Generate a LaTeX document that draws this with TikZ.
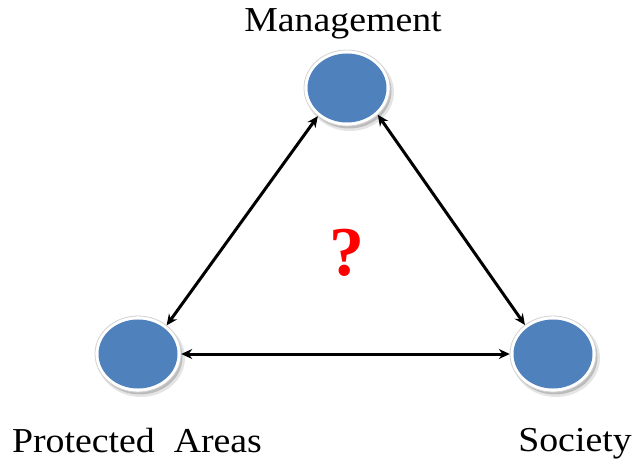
\documentclass[tikz,border=0pt]{standalone}
\usepackage{fontspec}
\setmainfont{Liberation Serif}
\usetikzlibrary{arrows.meta,shapes.geometric,calc}
\definecolor{discblue}{RGB}{79,129,189}
\definecolor{ringedge}{RGB}{210,210,210}
\tikzset{
  disc/.style={ellipse, minimum width=86pt, minimum height=76pt, inner sep=0pt},
  link/.style={line width=3pt, {Stealth[length=11pt,width=10pt]}-{Stealth[length=11pt,width=10pt]}},
  label/.style={anchor=base, inner sep=0pt, font=\fontsize{35}{40}\selectfont}
}
\newcommand{\drawdisc}[2]{%
  % soft shadow, white rim, blue face
  \fill[black, opacity=0.10] ($(#1)+(3,4)$) ellipse [x radius=44pt, y radius=39pt];
  \fill[black, opacity=0.18] ($(#1)+(2,3)$) ellipse [x radius=42.5pt, y radius=37.5pt];
  \filldraw[fill=white, draw=ringedge, line width=0.8pt] (#1) ellipse [x radius=43pt, y radius=38pt];
  \fill[discblue] (#1) ellipse [x radius=39.5pt, y radius=34.5pt];
  \node[disc] (#2) at (#1) {};
}
\begin{document}
\begin{tikzpicture}[x=1pt, y=-1pt]
  \useasboundingbox (0,0) rectangle (635,465);

  \coordinate (cm) at (347,88);
  \coordinate (cp) at (138,354);
  \coordinate (cs) at (553,354);

  \drawdisc{cm}{mgmt}
  \drawdisc{cp}{parea}
  \drawdisc{cs}{soc}

  \draw[link] (parea.45) -- (mgmt.224);
  \draw[link] (mgmt.319) -- (soc.134);
  \draw[link] (parea.east) -- (soc.west);

  \node[label] (tm) at (343,32) {\scalebox{1.08}[1]{Management}};
  \node[label] (tp) at (137,452) {\scalebox{1.08}[1]{Protected\ \ Areas}};
  \node[label] (ts) at (575,451) {\scalebox{1.08}[1]{Society}};

  \node[anchor=base, inner sep=0pt, text=red, font=\fontsize{70}{76}\selectfont\bfseries] (q) at (347,276) {?};
\end{tikzpicture}
\end{document}
